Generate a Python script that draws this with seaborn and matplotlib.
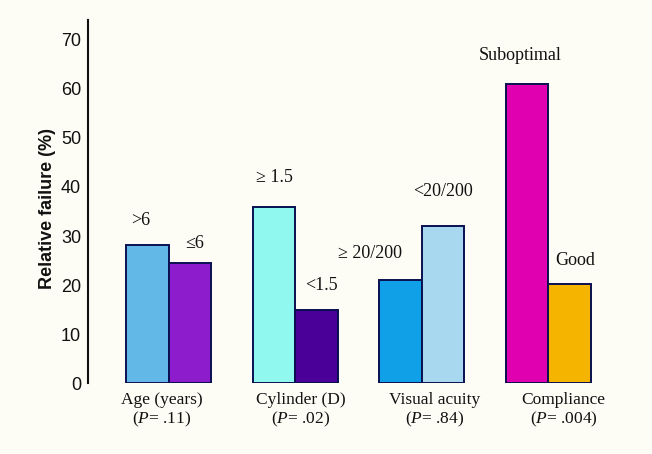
import numpy as np
import pandas as pd
import matplotlib
matplotlib.use("Agg")
import matplotlib.pyplot as plt
import seaborn as sns

# ---- data ----
groups = ["Age (years)", "Cylinder (D)", "Visual acuity", "Compliance"]
p_values = [".11", ".02", ".84", ".004"]
first_levels = [">6", "\u2265 1.5", "\u2265 20/200", "Suboptimal"]
second_levels = ["\u22646", "<1.5", "<20/200", "Good"]
first_values = [28.2, 36.0, 21.0, 61.0]
second_values = [24.5, 14.9, 32.0, 20.3]
first_colors = ["#62b8e6", "#90f8ee", "#10a0e8", "#e000b0"]
second_colors = ["#8c1ccc", "#4a0098", "#a8d8f0", "#f5b400"]
yticks = [0, 10, 20, 30, 40, 50, 60, 70]

df = pd.DataFrame({
    "group": groups * 2,
    "slot": ["first"] * 4 + ["second"] * 4,
    "value": first_values + second_values,
})

sns.set_theme(style="white")
plt.rcParams["font.family"] = ["Liberation Sans", "DejaVu Sans"]
plt.rcParams["mathtext.fontset"] = "custom"
plt.rcParams["mathtext.rm"] = "Liberation Serif"
plt.rcParams["mathtext.it"] = "Liberation Serif:italic"

bg = "#fdfdf5"
fig = plt.figure(figsize=(6.52, 4.54), dpi=100, facecolor=bg)
ax = fig.add_axes([88 / 652, 70.7 / 454, 544 / 652, 363.3 / 454])
ax.set_facecolor(bg)

sns.barplot(data=df, x="group", y="value", hue="slot", dodge=True,
            width=0.67, edgecolor="#0a1050", linewidth=1.4,
            legend=False, ax=ax, saturation=1)

for cont, cols in zip(ax.containers, [first_colors, second_colors]):
    for patch, c in zip(cont.patches, cols):
        patch.set_facecolor(c)

ax.set_xlim(-0.636, 3.66)
ax.set_ylim(0, 74)
ax.set_yticks(yticks)
ax.set_yticklabels([str(t) for t in yticks], fontsize=13,
                   family=["Liberation Sans", "DejaVu Sans"])
ax.tick_params(axis="y", length=0, pad=5, colors="#111111")
ax.tick_params(axis="x", length=0, pad=6)

label_offsets = [-0.055, 0.047, 0.10, 0.12]
ax.set_xticks(np.arange(len(groups)) + np.array(label_offsets))
ax.set_xticklabels([f"{g}\n($\\it{{P}}$= {p})" for g, p in zip(groups, p_values)],
                   fontsize=12.5, family=["Liberation Serif", "DejaVu Serif"],
                   color="#111111", linespacing=1.15)
ax.set_xlabel("")
ax.set_ylabel("Relative failure (%)", fontsize=13, fontweight="bold",
              color="#111111")
ax.yaxis.set_label_coords(-0.059, 0.48)

for s in ["top", "right", "bottom"]:
    ax.spines[s].set_visible(False)
ax.spines["left"].set_color("#111111")
ax.spines["left"].set_linewidth(1.5)

# bar annotations
bar_w = 0.67 / 2
first_dx = [-0.055, 0.0, -0.245, -0.055]
first_dy = [5.0, 6.0, 5.5, 5.7]
second_dx = [0.04, 0.04, 0.0, 0.04]
second_dy = [4.0, 5.0, 7.0, 4.7]
for i in range(len(groups)):
    x1 = i - bar_w / 2
    x2 = i + bar_w / 2
    ax.text(x1 + first_dx[i], first_values[i] + first_dy[i], first_levels[i],
            ha="center", va="center", fontsize=13,
            family=["Liberation Serif", "DejaVu Serif"], color="#111111")
    ax.text(x2 + second_dx[i], second_values[i] + second_dy[i], second_levels[i],
            ha="center", va="center", fontsize=13,
            family=["Liberation Serif", "DejaVu Serif"], color="#111111")

fig.savefig("out.png", dpi=100, facecolor=bg)
